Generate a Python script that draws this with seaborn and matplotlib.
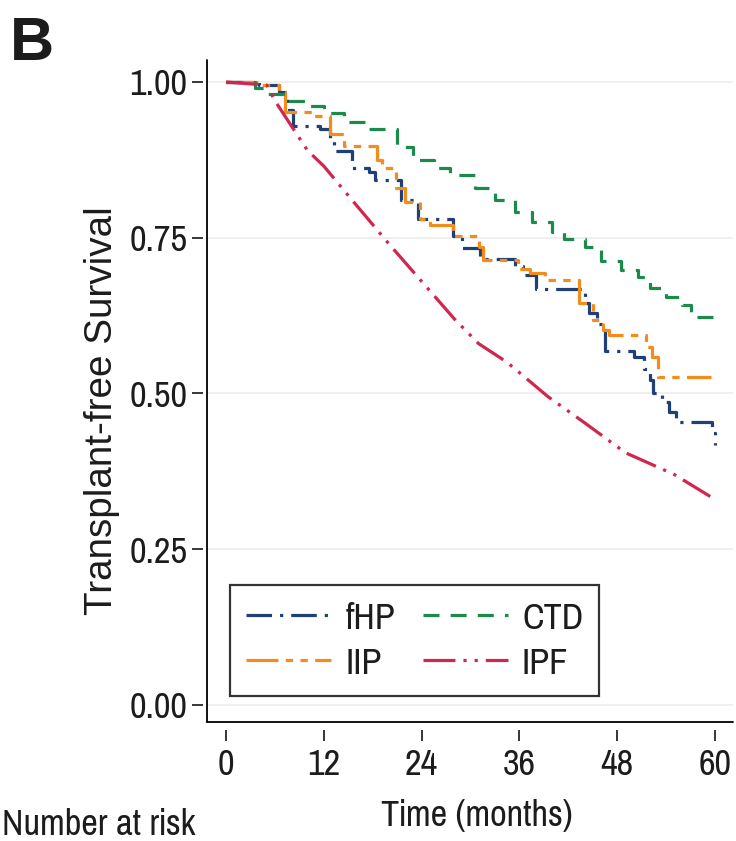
import matplotlib
matplotlib.use("Agg")
import matplotlib.pyplot as plt
import pandas as pd
import seaborn as sns

# ---------------- data ----------------
fhp_t = [0, 4, 6.5, 7.5, 8.2, 11.5, 12.8, 13.2, 15.5, 17.5, 18.3, 21.5, 23.5, 27.8, 29, 31.2,
         35.5, 36.5, 38, 44, 44.5, 45.5, 46.5, 50, 51.3, 52, 52.4, 53.5, 54.4, 55.2, 59.6, 60]
fhp_s = [1.0, 0.995, 0.984, 0.955, 0.93, 0.925, 0.905, 0.89, 0.862, 0.855, 0.843, 0.81, 0.78, 0.753, 0.733, 0.716,
         0.705, 0.69, 0.668, 0.645, 0.63, 0.612, 0.568, 0.558, 0.54, 0.522, 0.50, 0.487, 0.47, 0.455, 0.437, 0.418]

iip_t = [0, 4, 6.5, 7.2, 10.5, 12.8, 14.5, 18.5, 19.2, 20.8, 22, 23.8, 25, 27.8, 31, 31.5, 35.8, 37.3,
         39.2, 43.3, 45, 46.3, 47, 51.5, 52.3, 53, 59.5]
iip_s = [1.0, 0.995, 0.984, 0.952, 0.945, 0.917, 0.897, 0.875, 0.862, 0.83, 0.807, 0.78, 0.77, 0.753, 0.735, 0.714, 0.70, 0.693,
         0.682, 0.645, 0.618, 0.602, 0.594, 0.575, 0.559, 0.527, 0.527]

ctd_t = [0, 3.5, 5, 7, 10, 12, 14.5, 17, 21, 23, 25.5, 27.5, 30.5, 33, 35.5, 37.5, 40, 41.5, 44, 46,
         48.5, 50.5, 52, 54, 56, 57, 60]
ctd_s = [1.0, 0.99, 0.98, 0.97, 0.962, 0.95, 0.935, 0.925, 0.895, 0.875, 0.862, 0.85, 0.83, 0.81, 0.792, 0.775, 0.76, 0.748, 0.735, 0.712,
         0.698, 0.687, 0.67, 0.655, 0.642, 0.622, 0.615]

ipf_t = [0, 5, 6, 8, 10, 12, 15.5, 20, 24, 28, 31, 34.5, 39.5, 44, 49, 55, 60]
ipf_s = [1.0, 0.995, 0.97, 0.93, 0.89, 0.865, 0.81, 0.74, 0.68, 0.62, 0.58, 0.55, 0.495, 0.453, 0.405, 0.37, 0.33]

x_ticks = [0, 12, 24, 36, 48, 60]
y_ticks = [0.00, 0.25, 0.50, 0.75, 1.00]
y_tick_labels = ["0.00", "0.25", "0.50", "0.75", "1.00"]

# ---------------- styling ----------------
sns.set_theme(style="white")
NARROW = ["Liberation Sans Narrow", "Pragati Narrow", "Archivo Narrow", "Roboto Condensed", "DejaVu Sans"]
plt.rcParams["font.family"] = NARROW
TXT = "#1c1c1c"
FS = 28.5

W, H = 736, 841
fig = plt.figure(figsize=(W / 100, H / 100), dpi=100)
L, R, T, B = 207, 733, 60, 722
ax = fig.add_axes([L / W, 1 - B / H, (R - L) / W, (B - T) / H])

series = [
    ("fHP", fhp_t, fhp_s, "#1f3f77", (0, (8, 2.5, 1, 2.5)), "steps-post"),
    ("IIP", iip_t, iip_s, "#f28c1f", (0, (10, 2.3, 2.3, 2.3, 2.3, 2.3)), "steps-post"),
    ("CTD", ctd_t, ctd_s, "#1b8a4a", (0, (5, 3.5)), "steps-post"),
    ("IPF", ipf_t, ipf_s, "#d0264f", (0, (10, 2.5, 1, 2.5, 1, 2.5)), "default"),
]

for name, t, s, col, ls, dstyle in series:
    df = pd.DataFrame({"time": t, "surv": s})
    sns.lineplot(data=df, x="time", y="surv", ax=ax, color=col, linewidth=2.3,
                 estimator=None, sort=False, drawstyle=dstyle, linestyle=ls, label=name)

x0 = 226
px_per_month = (715 - 226) / 60
ax.set_xlim((L - x0) / px_per_month, (R - x0) / px_per_month)
px_per_unit = (705 - 82) / 1.0
ax.set_ylim(-(B - 705) / px_per_unit, 1 + (82 - T) / px_per_unit)

ax.set_xticks(x_ticks)
ax.set_xticklabels([str(v) for v in x_ticks])
ax.set_yticks(y_ticks)
ax.set_yticklabels(y_tick_labels)
for yv in y_ticks:
    ax.axhline(yv, color="#ebebeb", lw=1.1, zorder=0)

for sp in ["top", "right"]:
    ax.spines[sp].set_visible(False)
ax.spines["bottom"].set_position(("outward", 6))
ax.spines["left"].set_position(("outward", 3))
ax.spines["bottom"].set_color("none")
ax.spines["left"].set_color("none")
ax.plot([0, 0], [0, 1], transform=ax.transAxes, color="black", lw=1.3, clip_on=False)
ax.plot([0, 1], [0, 0], transform=ax.transAxes, color="black", lw=1.3, clip_on=False)

ax.tick_params(axis="both", which="major", direction="out", length=8, width=1.1,
               color="black", labelsize=FS, labelcolor=TXT, bottom=True, left=True)
ax.tick_params(axis="x", pad=5)
ax.tick_params(axis="y", pad=3)

ax.set_xlabel("Time (months)", fontsize=FS, color=TXT)
ax.xaxis.set_label_coords(477 / W, 1 - 815 / H, transform=fig.transFigure)
ax.xaxis.label.set_va("center")
ax.set_ylabel("Transplant-free Survival", fontsize=27.8, color=TXT,
              family=["Liberation Sans", "DejaVu Sans"])
ax.yaxis.set_label_coords(102 / W, 1 - 411 / H, transform=fig.transFigure)
ax.yaxis.label.set_va("center")

handles, labels = ax.get_legend_handles_labels()
order = ["fHP", "IIP", "CTD", "IPF"]
hmap = dict(zip(labels, handles))
leg = ax.legend([hmap[k] for k in order], order, ncol=2, loc="upper left",
                bbox_to_anchor=(230 / W, 1 - 585 / H), bbox_transform=fig.transFigure,
                fontsize=FS, frameon=True, fancybox=False, edgecolor="black",
                handlelength=2.15, handletextpad=0.36, columnspacing=0.7,
                labelspacing=0.3, borderpad=0.4, borderaxespad=0)
leg.get_frame().set_linewidth(1.6)
for txt in leg.get_texts():
    txt.set_color(TXT)

fig.text(10 / W, 1 - 16 / H, "B", fontsize=44, fontweight="bold",
         family=["Liberation Sans", "DejaVu Sans"], color=TXT, ha="left", va="top")
fig.text(2 / W, 0.0, "Number at risk", fontsize=FS, color=TXT, ha="left", va="bottom")

fig.savefig("out.png", dpi=100)
